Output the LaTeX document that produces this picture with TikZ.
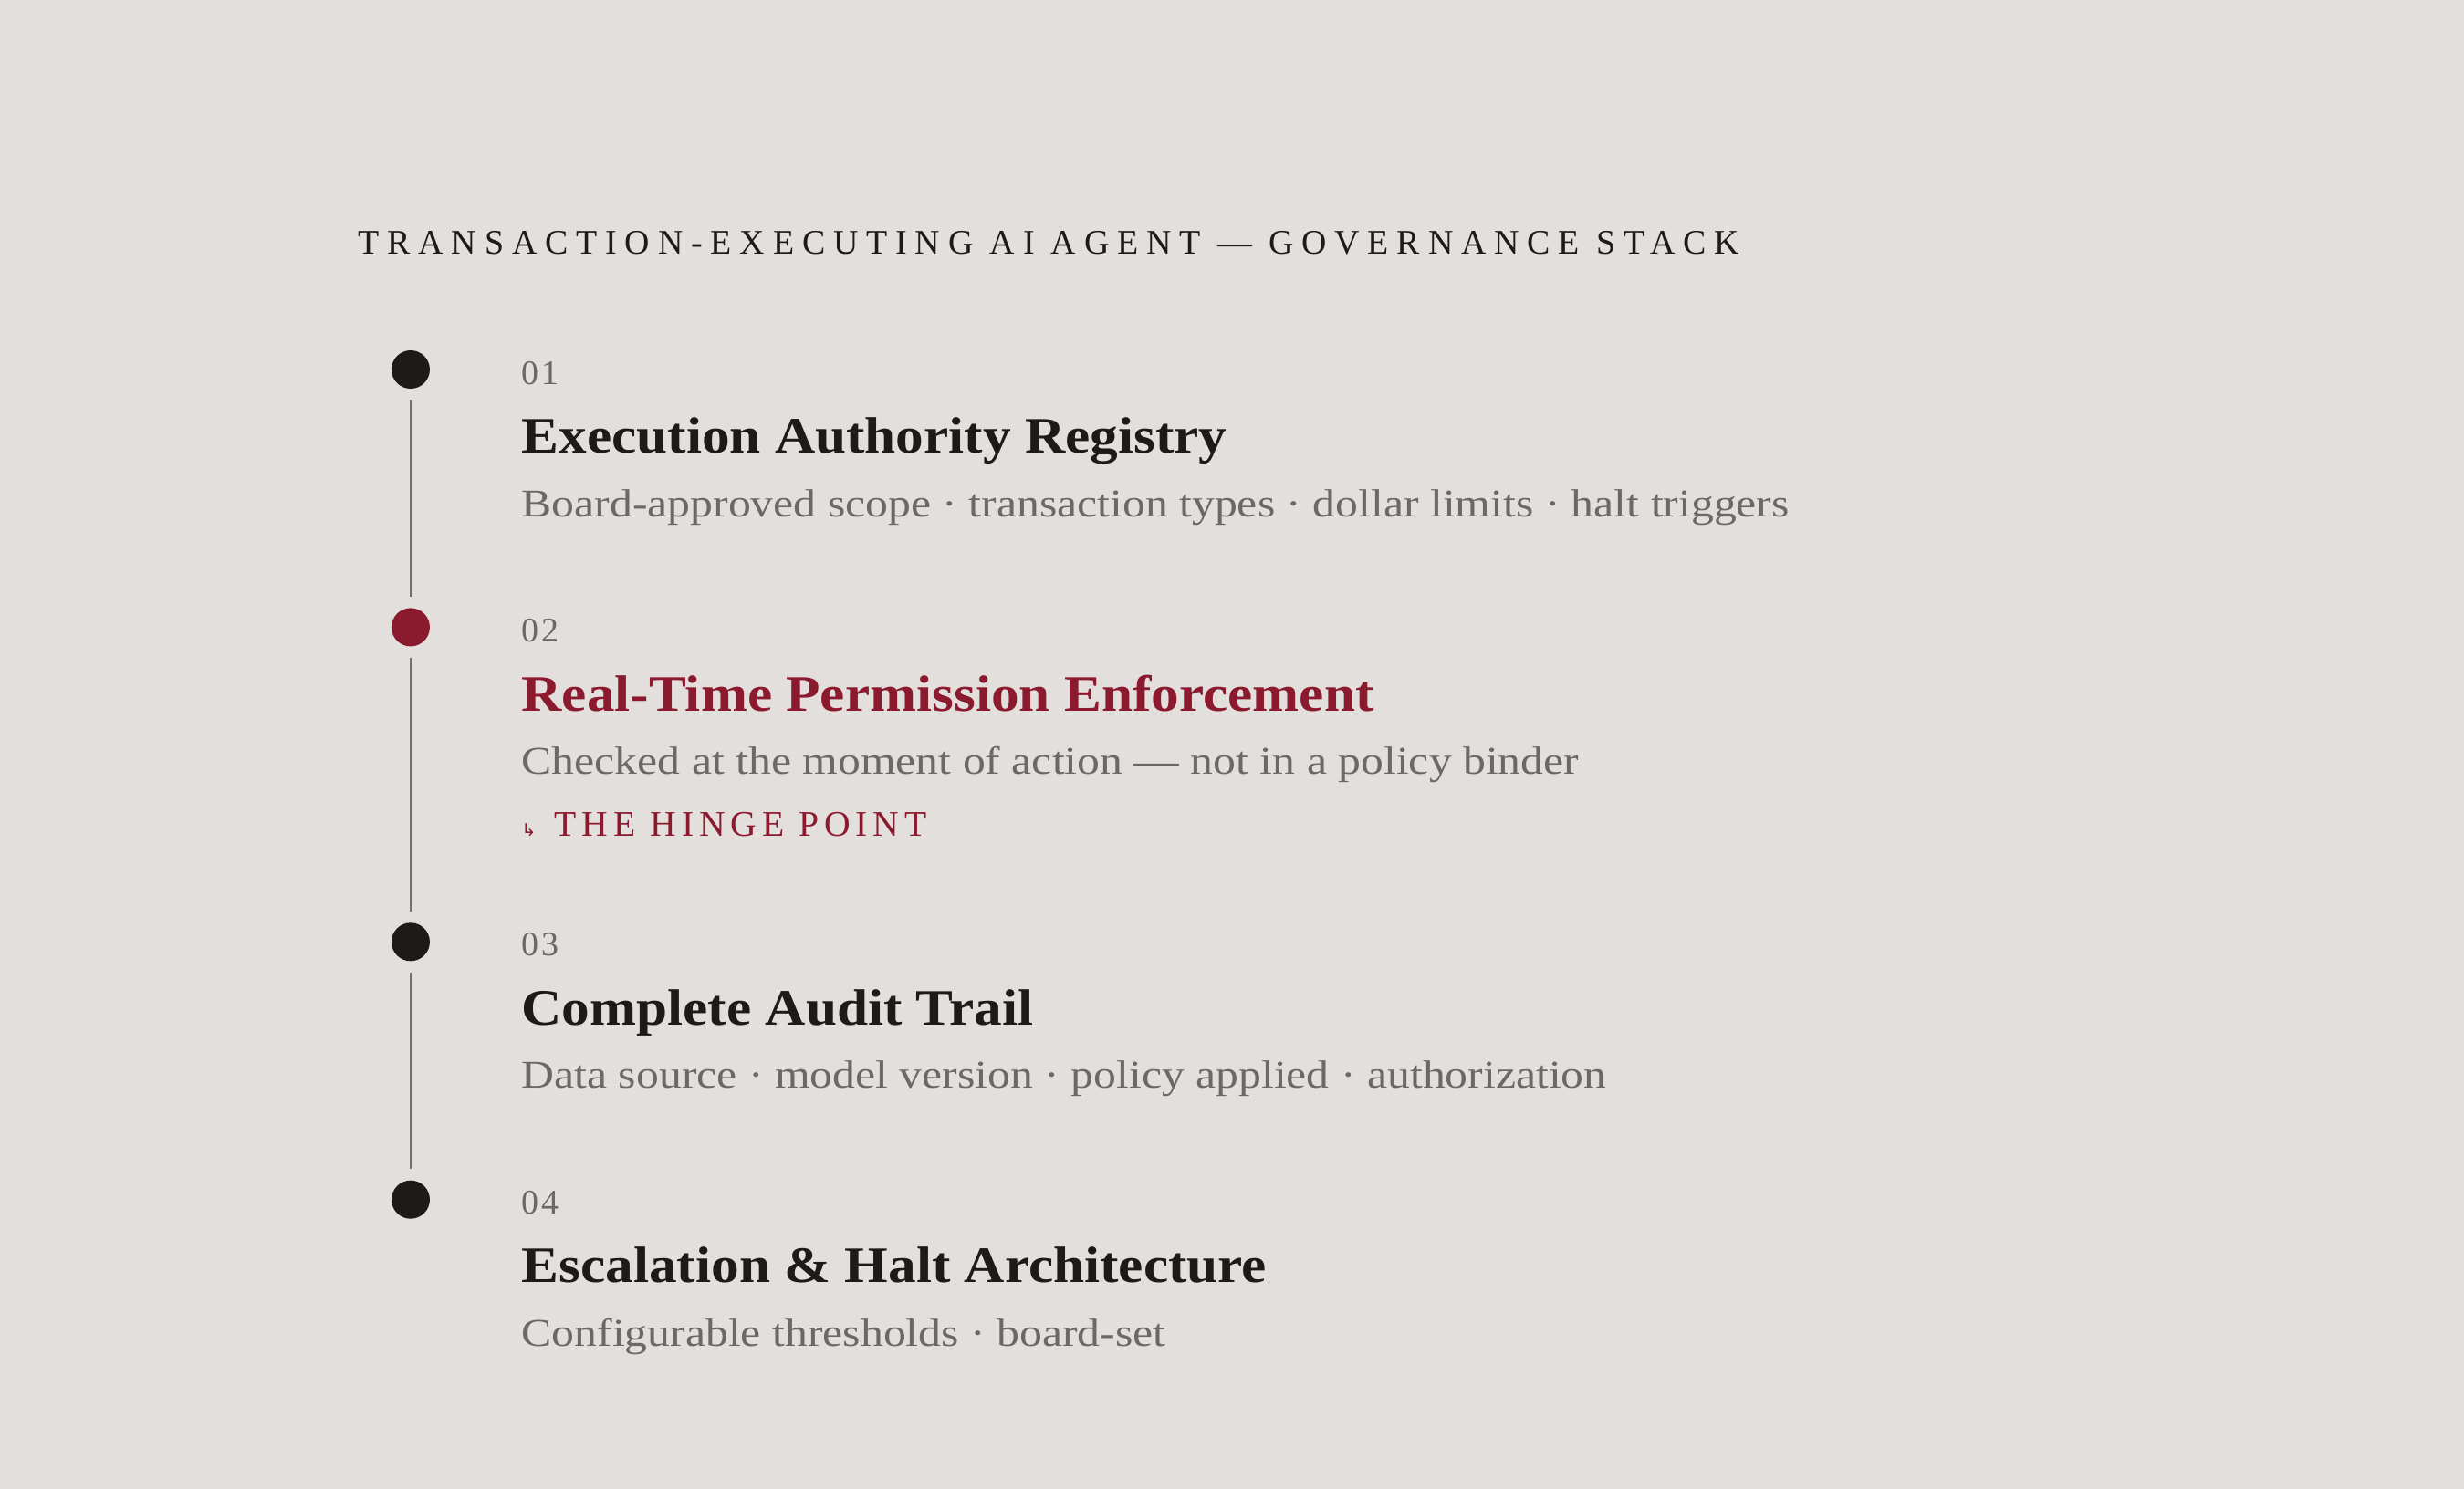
\documentclass[tikz,border=0pt]{standalone}
\usepackage{fontspec}
\setmainfont{Liberation Serif}
\newfontfamily\titlefont[LetterSpace=23.4]{Liberation Serif}
\newfontfamily\numfont[LetterSpace=8]{Liberation Serif}
\newfontfamily\hingefont[LetterSpace=15]{Liberation Serif}
\newfontfamily\headfont[FakeStretch=1.095]{Liberation Serif}
\newfontfamily\subfont[FakeStretch=1.155]{Liberation Serif}
\newfontfamily\arrowfont{DejaVu Sans}
\definecolor{bg}{HTML}{E2DFDC}
\definecolor{ink}{HTML}{1C1B19}
\definecolor{accent}{HTML}{8C1A2F}
\definecolor{muted}{HTML}{6B6866}
\definecolor{rule}{HTML}{707070}
\begin{document}
\begin{tikzpicture}[x=1pt,y=1pt,
  dot/.style={circle,inner sep=0pt,minimum size=24.4pt},
  conn/.style={draw=rule,line width=1.6pt,shorten <=7pt,shorten >=7pt},
  lbl/.style={anchor=base west,inner sep=0pt,outer sep=0pt},
  numtxt/.style={lbl,text=muted,font=\numfont\fontsize{22}{24}\selectfont},
  headtxt/.style={lbl,text=ink,font=\headfont\bfseries\fontsize{32.5}{36}\selectfont},
  subtxt/.style={lbl,text=muted,font=\subfont\fontsize{25}{28}\selectfont}]
\fill[bg] (0,0) rectangle (1568,-947.8);
\useasboundingbox (0,0) rectangle (1568,-947.8);

\node[lbl,text=ink,font=\titlefont\fontsize{22}{24}\selectfont] (title) at (228,-161.5) {TRANSACTION-EXECUTING AI AGENT — GOVERNANCE STACK};

\node[dot,fill=ink] (d1) at (261.3,-235.2) {};
\node[dot,fill=accent] (d2) at (261.3,-399.2) {};
\node[dot,fill=ink] (d3) at (261.3,-599.5) {};
\node[dot,fill=ink] (d4) at (261.3,-763.5) {};
\draw[conn] (d1) -- (d2);
\draw[conn] (d2) -- (d3);
\draw[conn] (d3) -- (d4);

\node[numtxt] (n1) at (332,-245) {01};
\node[headtxt] (h1) at (332,-288.6) {Execution Authority Registry};
\node[subtxt] (s1) at (332,-329) {Board-approved scope · transaction types · dollar limits · halt triggers};

\node[numtxt] (n2) at (332,-408.5) {02};
\node[headtxt,text=accent] (h2) at (332,-452.5) {Real-Time Permission Enforcement};
\node[subtxt] (s2) at (332,-492.6) {Checked at the moment of action — not in a policy binder};
\node[lbl,text=accent,font=\arrowfont\fontsize{11}{12}\selectfont] (ar) at (332,-532.5) {↳};
\node[lbl,text=accent,font=\hingefont\fontsize{23}{25}\selectfont] (hinge) at (353,-532.5) {THE HINGE POINT};

\node[numtxt] (n3) at (332,-608.5) {03};
\node[headtxt] (h3) at (332,-652.5) {Complete Audit Trail};
\node[subtxt] (s3) at (332,-692.6) {Data source · model version · policy applied · authorization};

\node[numtxt] (n4) at (332,-772.5) {04};
\node[headtxt] (h4) at (332,-816.5) {Escalation \& Halt Architecture};
\node[subtxt] (s4) at (332,-856.6) {Configurable thresholds · board-set};
\end{tikzpicture}
\end{document}
